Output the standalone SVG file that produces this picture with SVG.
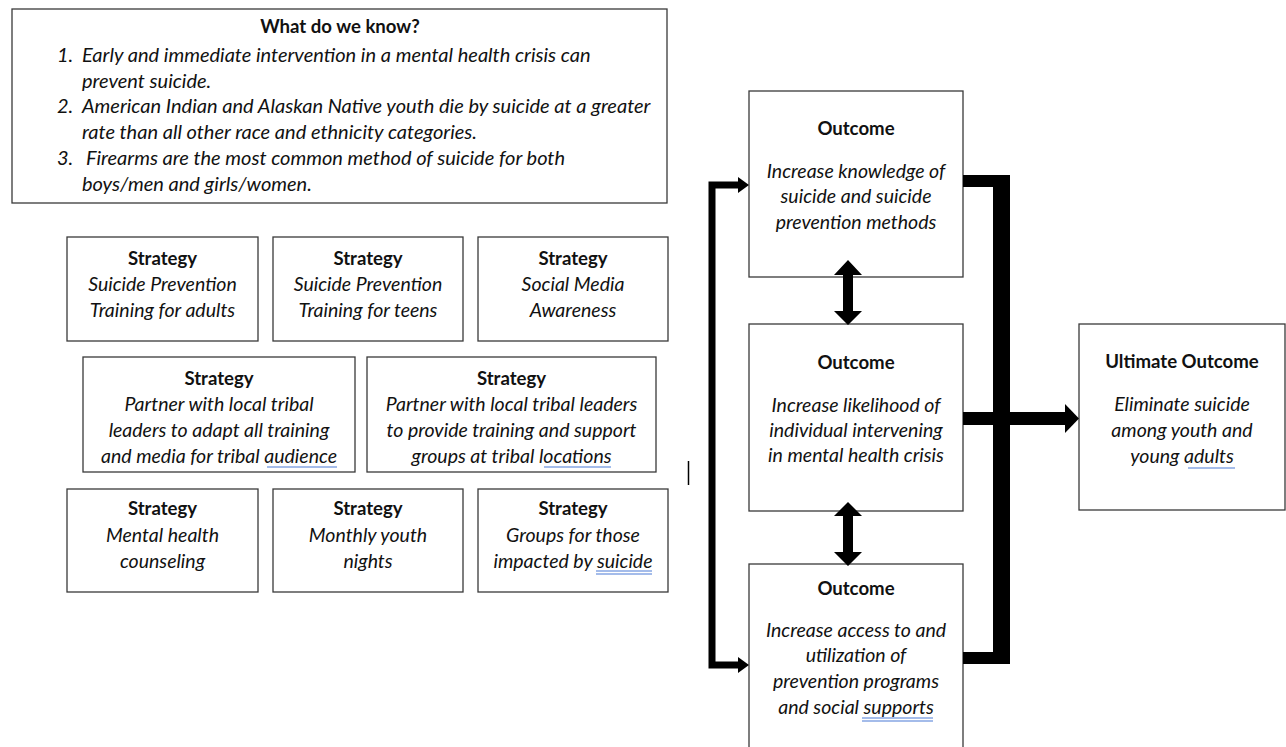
<svg xmlns="http://www.w3.org/2000/svg" width="1286" height="747" viewBox="0 0 1286 747">
<style>
.box{fill:#fff;stroke:#3a3a3a;stroke-width:1.3}
text{font-family:Lato,"Open Sans","Liberation Sans",sans-serif;fill:#111;font-size:19.5px}
.b{font-weight:bold;text-anchor:middle;font-size:18.6px}
.i{font-style:italic;text-anchor:middle}
.il{font-style:italic;font-size:20px}
.sq{stroke:#4a7bd6;stroke-width:1.2;fill:none}
</style>
<rect width="1286" height="747" fill="#fff"/>
<g id="know">
<rect class="box" x="12" y="9" width="655" height="194"/>
<text class="b" x="340" y="33">What do we know?</text>
<text class="il" x="57" y="62">1.</text>
<text class="il" x="82" y="62">Early and immediate intervention in a mental health crisis can</text>
<text class="il" x="82" y="88">prevent suicide.</text>
<text class="il" x="57" y="113">2.</text>
<text class="il" x="82" y="113">American Indian and Alaskan Native youth die by suicide at a greater</text>
<text class="il" x="82" y="139">rate than all other race and ethnicity categories.</text>
<text class="il" x="57" y="165">3.</text>
<text class="il" x="86" y="165">Firearms are the most common method of suicide for both</text>
<text class="il" x="82" y="191">boys/men and girls/women.</text>
</g>
<g id="s1">
<rect class="box" x="67" y="237" width="191" height="104"/>
<text class="b" x="162.5" y="265">Strategy</text>
<text class="i" x="162.5" y="291">Suicide Prevention</text>
<text class="i" x="162.5" y="317">Training for adults</text>
</g>
<g id="s2">
<rect class="box" x="273" y="237" width="190" height="104"/>
<text class="b" x="368" y="265">Strategy</text>
<text class="i" x="368" y="291">Suicide Prevention</text>
<text class="i" x="368" y="317">Training for teens</text>
</g>
<g id="s3">
<rect class="box" x="478" y="237" width="190" height="104"/>
<text class="b" x="573" y="265">Strategy</text>
<text class="i" x="573" y="291">Social Media</text>
<text class="i" x="573" y="317">Awareness</text>
</g>
<g id="s4">
<rect class="box" x="83" y="357" width="272" height="115"/>
<text class="b" x="219" y="385">Strategy</text>
<text class="i" x="219" y="411">Partner with local tribal</text>
<text class="i" x="219" y="437">leaders to adapt all training</text>
<text class="i" x="219" y="463">and media for tribal audience</text>
<path class="sq" d="M267,467 H337"/>
</g>
<g id="s5">
<rect class="box" x="367" y="357" width="289" height="115"/>
<text class="b" x="511.5" y="385">Strategy</text>
<text class="i" x="511.5" y="411">Partner with local tribal leaders</text>
<text class="i" x="511.5" y="437">to provide training and support</text>
<text class="i" x="511.5" y="463">groups at tribal locations</text>
<path class="sq" d="M544,467 H611"/>
</g>
<g id="s6">
<rect class="box" x="67" y="489" width="191" height="103"/>
<text class="b" x="162.5" y="515">Strategy</text>
<text class="i" x="162.5" y="542">Mental health</text>
<text class="i" x="162.5" y="568">counseling</text>
</g>
<g id="s7">
<rect class="box" x="273" y="489" width="190" height="103"/>
<text class="b" x="368" y="515">Strategy</text>
<text class="i" x="368" y="542">Monthly youth</text>
<text class="i" x="368" y="568">nights</text>
</g>
<g id="s8">
<rect class="box" x="478" y="489" width="190" height="103"/>
<text class="b" x="573" y="515">Strategy</text>
<text class="i" x="573" y="542">Groups for those</text>
<text class="i" x="573" y="568">impacted by suicide</text>
<path class="sq" d="M596,571 H652 M596,574 H652"/>
</g>
<g id="o1">
<rect class="box" x="749" y="91" width="214" height="186"/>
<text class="b" x="856" y="135">Outcome</text>
<text class="i" x="856" y="178">Increase knowledge of</text>
<text class="i" x="856" y="203">suicide and suicide</text>
<text class="i" x="856" y="229">prevention methods</text>
</g>
<g id="o2">
<rect class="box" x="749" y="324" width="214" height="187"/>
<text class="b" x="856" y="369">Outcome</text>
<text class="i" x="856" y="412">Increase likelihood of</text>
<text class="i" x="856" y="437">individual intervening</text>
<text class="i" x="856" y="462">in mental health crisis</text>
</g>
<g id="o3">
<rect class="box" x="749" y="564" width="214" height="200"/>
<text class="b" x="856" y="595">Outcome</text>
<text class="i" x="856" y="637">Increase access to and</text>
<text class="i" x="856" y="662">utilization of</text>
<text class="i" x="856" y="688">prevention programs</text>
<text class="i" x="856" y="714">and social supports</text>
<path class="sq" d="M862,718 H933 M862,721 H933"/>
</g>
<g id="ultimate">
<rect class="box" x="1079" y="324" width="206" height="186"/>
<text class="b" x="1182" y="368">Ultimate Outcome</text>
<text class="i" x="1182" y="411">Eliminate suicide</text>
<text class="i" x="1182" y="437">among youth and</text>
<text class="i" x="1182" y="463">young adults</text>
<path class="sq" d="M1188,468 H1235"/>
</g>
<g id="connectors" fill="#000">
<path d="M740,185 H712 V665 H740" fill="none" stroke="#000" stroke-width="7"/>
<polygon points="738,177 749,185 738,193"/>
<polygon points="738,657 749,665 738,673"/>
<path d="M963,175 H1010 V664 H963 V652 H993 V187 H963 Z"/>
<rect x="963" y="412" width="104" height="13"/>
<polygon points="1065,404 1079,418.5 1065,433"/>
<polygon points="848,260 834,275 843,275 843,311 834,311 848,325 862,311 853,311 853,275 862,275"/>
<polygon points="848,502 834,516 843,516 843,552 834,552 848,566 862,552 853,552 853,516 862,516"/>
<line x1="688.5" y1="461" x2="688.5" y2="485" stroke="#000" stroke-width="1.5"/>
</g>
</svg>
